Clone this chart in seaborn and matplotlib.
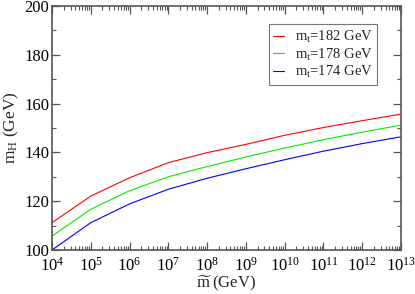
import numpy as np
import pandas as pd
import matplotlib
matplotlib.use("Agg")
import matplotlib.pyplot as plt
import seaborn as sns
from matplotlib.ticker import LogLocator, MultipleLocator, FixedLocator, NullFormatter

m_tilde = [1e4, 1e5, 1e6, 1e7, 1e8, 1e9, 1e10, 1e11, 1e12, 1e13]
mH_182 = [111.2, 122.1, 129.6, 135.8, 139.9, 143.3, 147.0, 150.2, 153.0, 155.7]
mH_178 = [105.7, 116.7, 124.3, 130.0, 134.2, 138.1, 141.8, 145.2, 148.3, 151.2]
mH_174 = [100.0, 111.2, 118.9, 124.9, 129.4, 133.3, 137.0, 140.5, 143.6, 146.4]
labels = ["m$_\\mathrm{t}$=182 GeV", "m$_\\mathrm{t}$=178 GeV", "m$_\\mathrm{t}$=174 GeV"]
colors = ["#ff0000", "#00ee00", "#0000ff"]
x_ticks = [1e4, 1e5, 1e6, 1e7, 1e8, 1e9, 1e10, 1e11, 1e12, 1e13]
x_ticklabels = ["10$^{%d}$" % e for e in range(4, 14)]
y_ticks = [100, 120, 140, 160, 180, 200]

df = pd.concat([
    pd.DataFrame({"m": m_tilde, "mH": v, "series": lab})
    for v, lab in zip([mH_182, mH_178, mH_174], labels)
])

sns.set_style("white")
plt.rcParams['font.family'] = ['Liberation Serif', 'DejaVu Serif']
plt.rcParams['mathtext.fontset'] = 'custom'
plt.rcParams['mathtext.rm'] = 'Liberation Serif'
plt.rcParams['mathtext.it'] = 'Liberation Serif:italic'

fig = plt.figure(figsize=(4.15, 2.94), dpi=100)
ax = fig.add_axes([52/415, 44/294, 349/415, 244/294])
sns.lineplot(data=df, x="m", y="mH", hue="series", palette=colors, ax=ax,
             linewidth=0.8, legend=True)
ax.set_xscale("log")
ax.set_xlim(1e4, 1e13)
ax.set_ylim(100, 200)
ax.xaxis.set_major_locator(FixedLocator(x_ticks))
ax.set_xticklabels(x_ticklabels)
ax.xaxis.set_minor_locator(LogLocator(base=10, subs=np.arange(2, 10), numticks=100))
ax.xaxis.set_minor_formatter(NullFormatter())
ax.yaxis.set_major_locator(FixedLocator(y_ticks))
ax.yaxis.set_minor_locator(MultipleLocator(10))
ax.tick_params(which="both", direction="in", top=True, right=True, bottom=True, left=True,
               color="#555555", labelsize=12, labelcolor="black")
ax.tick_params(which="major", length=6, width=0.9)
ax.tick_params(which="minor", length=3, width=0.8)
ax.tick_params(axis="x", pad=5)
ax.tick_params(axis="y", pad=2)
for s in ax.spines.values():
    s.set_color("#555555")
    s.set_linewidth(1.2)
    s.set_visible(True)
ax.set_xlabel("$\\widetilde{\\mathrm{m}}$\u2009(GeV)", fontsize=12, labelpad=-1)
ax.set_ylabel("m$_\\mathrm{H}$ (GeV)", fontsize=12.5, labelpad=2)

leg = ax.legend(loc="upper right", bbox_to_anchor=(0.931, 0.925), borderaxespad=0,
                fontsize=10.5, frameon=True, fancybox=False, edgecolor="#555555",
                handlelength=0.7, borderpad=0.3, labelspacing=0.12, handletextpad=0.75)
leg.get_frame().set_linewidth(0.8)
leg.set_title(None)

fig.savefig("out.png", dpi=100)
